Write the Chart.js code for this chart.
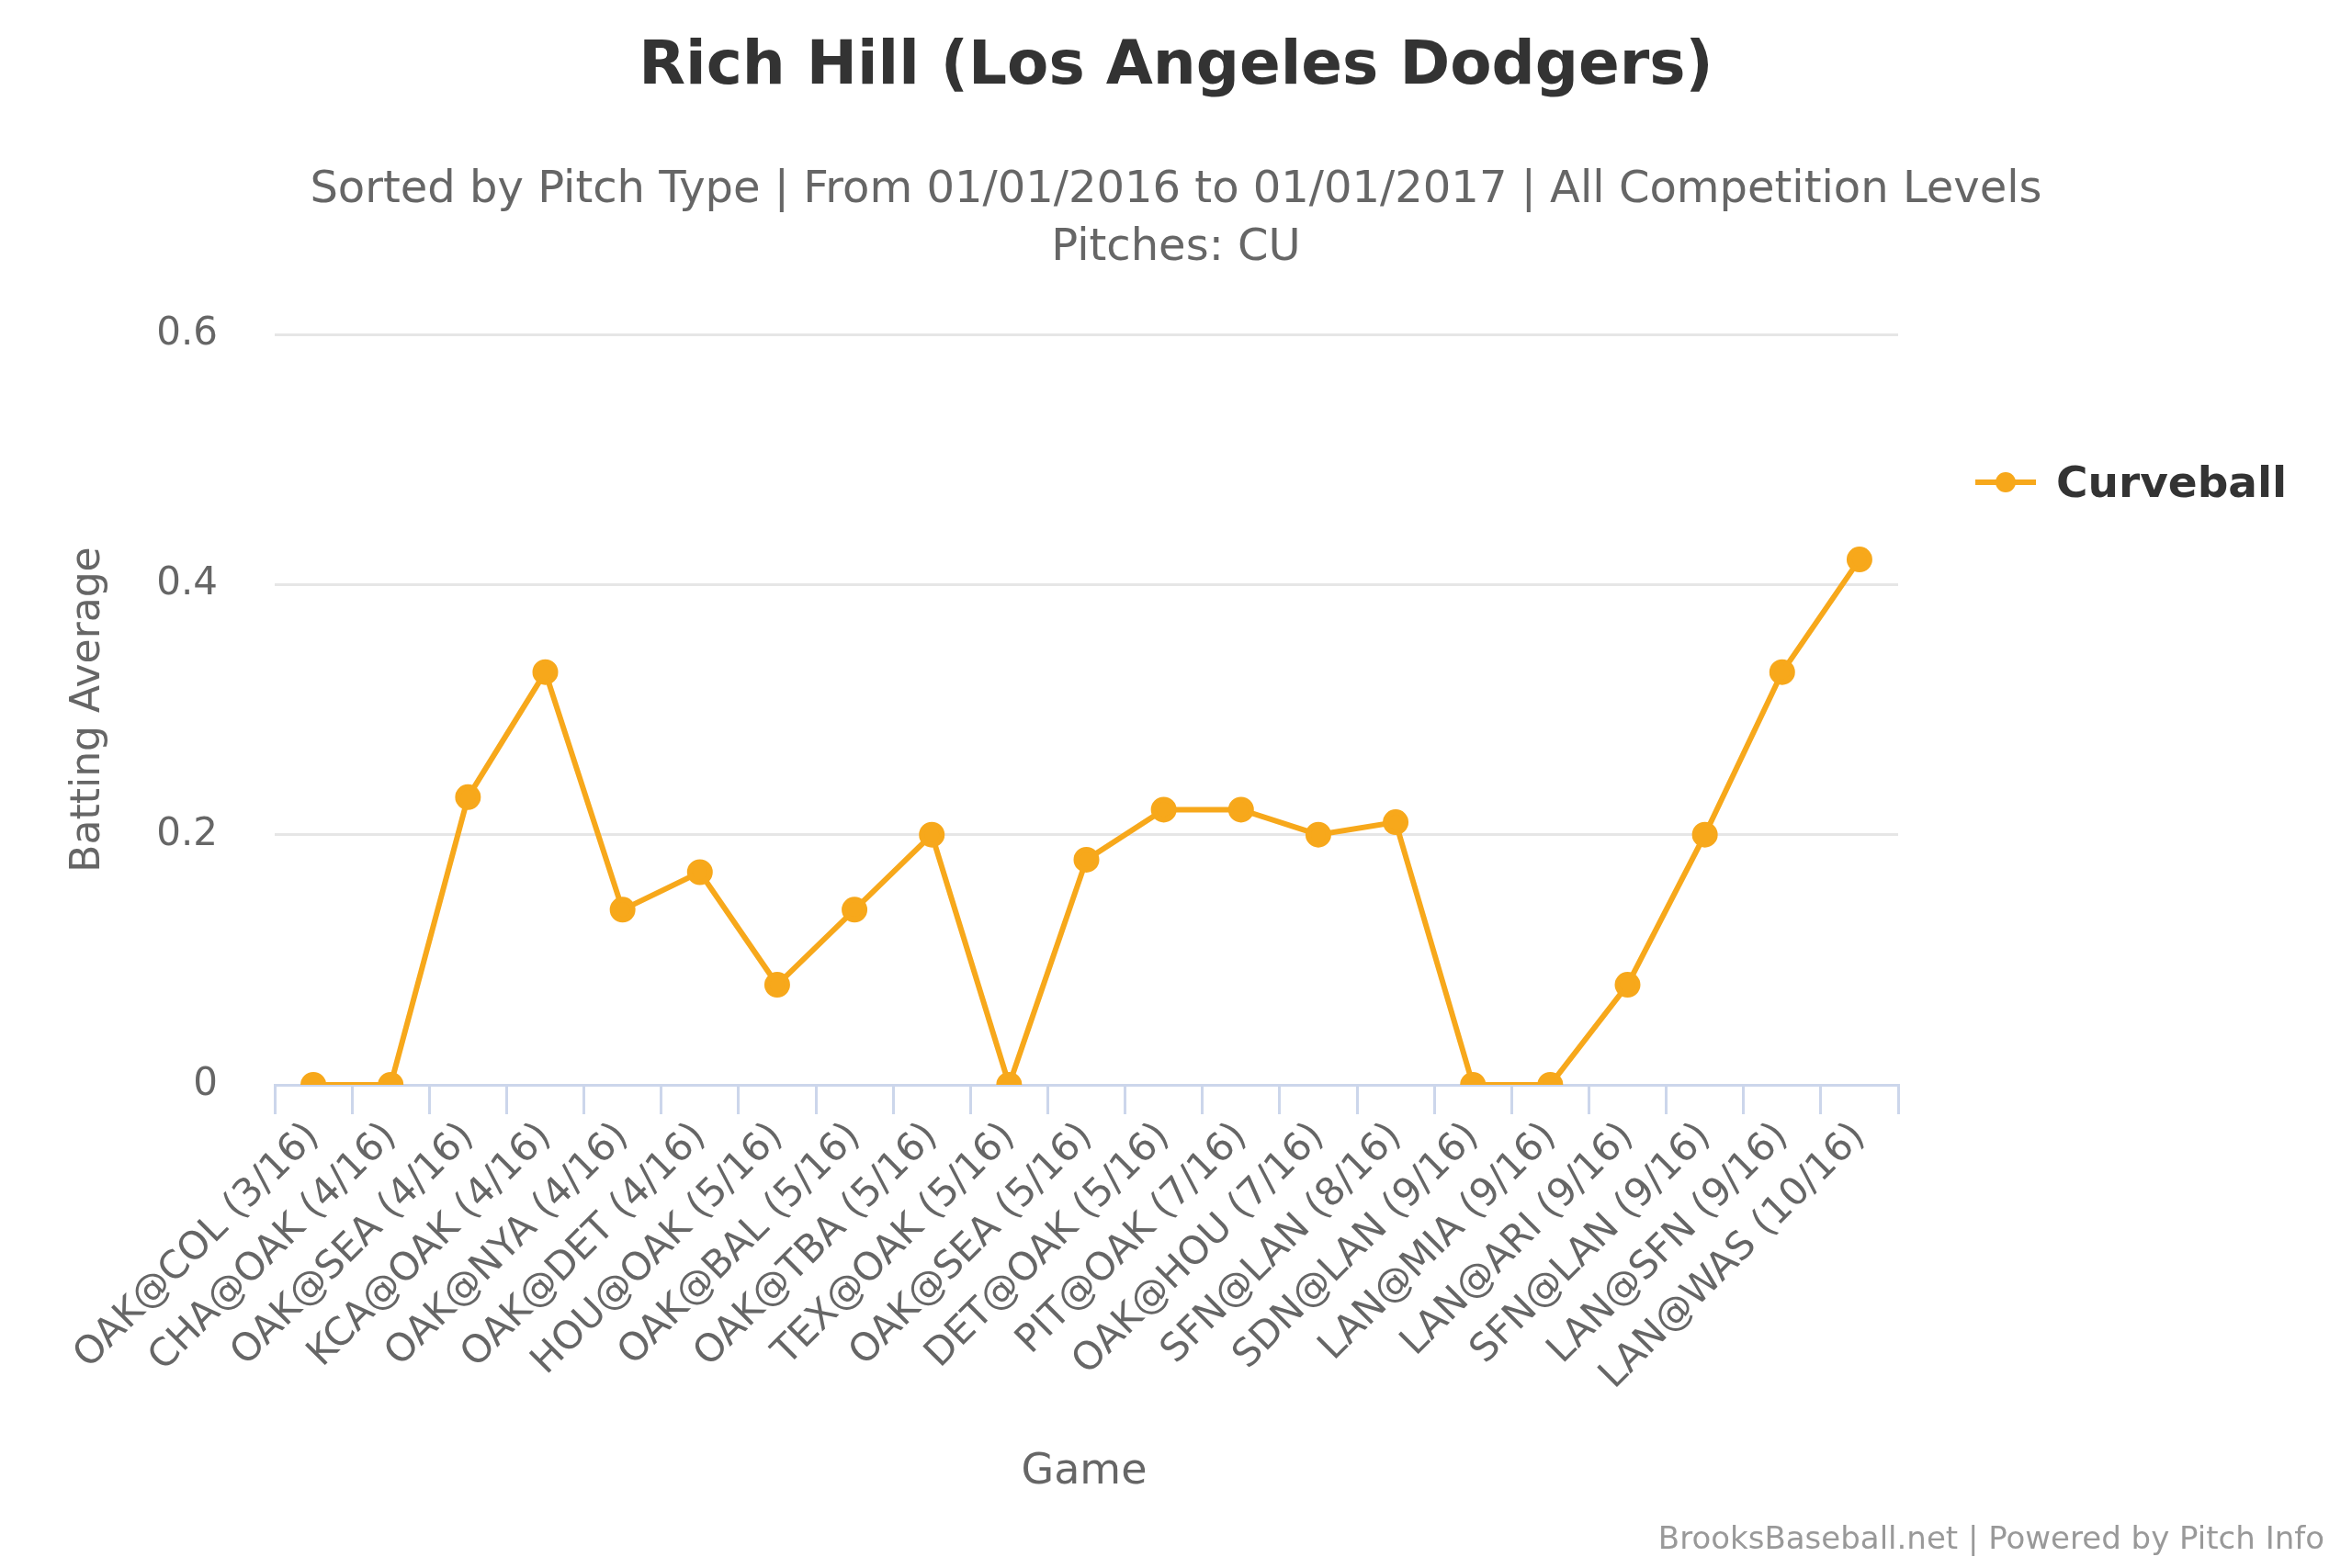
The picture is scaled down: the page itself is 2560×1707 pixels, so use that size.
<!DOCTYPE html>
<html>
<head>
<meta charset="utf-8">
<script src="https://cdn.jsdelivr.net/npm/chart.js@4"></script>
<style>
  html, body { margin: 0; padding: 0; background: #fff; }
  #wrap { position: relative; width: 2560px; height: 1707px; font-family: "DejaVu Sans", sans-serif; }
  canvas { position: absolute; left: 0; top: 0; }
  .txt { position: absolute; left: 0; width: 2560px; text-align: center; white-space: nowrap; }
  #title { top: 30px; font-size: 66px; font-weight: bold; color: #333; }
  #sub { top: 172px; font-size: 48px; color: #666; line-height: 63px; }
  #xtitle { top: 1572px; left: -100px; font-size: 46px; color: #666; }
  #legend { position: absolute; left: 2150px; top: 497px; font-size: 47px; color: #333; font-weight: bold; display: flex; align-items: center; }
  #legend .sym { position: relative; width: 66px; height: 40px; margin-right: 22px; }
  #legend .sym i { position: absolute; left: 0; top: 17px; width: 66px; height: 6px; background: #f7a81b; }
  #legend .sym b { position: absolute; left: 22px; top: 9px; width: 22px; height: 22px; border-radius: 50%; background: #f7a81b; }
  #credit { position: absolute; right: 30px; top: 1654px; font-size: 34px; color: #999; }
</style>
</head>
<body>
<div id="wrap">
  <canvas id="chart" width="2560" height="1707"></canvas>
  <div id="title" class="txt">Rich Hill (Los Angeles Dodgers)</div>
  <div id="sub" class="txt">Sorted by Pitch Type | From 01/01/2016 to 01/01/2017 | All Competition Levels<br>Pitches: CU</div>
  <div id="xtitle" class="txt">Game</div>
  <div id="legend"><span class="sym"><i></i><b></b></span>Curveball</div>
  <div id="credit">BrooksBaseball.net | Powered by Pitch Info</div>
</div>
<script>
// games and curveball batting average per game
const games = [
    "OAK@COL (3/16)", "CHA@OAK (4/16)", "OAK@SEA (4/16)", "KCA@OAK (4/16)",
    "OAK@NYA (4/16)", "OAK@DET (4/16)", "HOU@OAK (5/16)", "OAK@BAL (5/16)",
    "OAK@TBA (5/16)", "TEX@OAK (5/16)", "OAK@SEA (5/16)", "DET@OAK (5/16)",
    "PIT@OAK (7/16)", "OAK@HOU (7/16)", "SFN@LAN (8/16)", "SDN@LAN (9/16)",
    "LAN@MIA (9/16)", "LAN@ARI (9/16)", "SFN@LAN (9/16)", "LAN@SFN (9/16)",
    "LAN@WAS (10/16)"
];
const curveball = [0, 0, 0.23, 0.33, 0.14, 0.17, 0.08, 0.14, 0.20, 0, 0.18, 0.22,
    0.22, 0.20, 0.21, 0, 0, 0.08, 0.20, 0.33, 0.42];
const yTicks = [0, 0.2, 0.4, 0.6];

const orange = "#f7a81b";
Chart.defaults.font.family = "'DejaVu Sans', sans-serif";

new Chart(document.getElementById("chart"), {
    type: "line",
    data: {
        labels: games,
        datasets: [{
            label: "Curveball",
            data: curveball,
            borderColor: orange,
            backgroundColor: orange,
            borderWidth: 6,
            pointRadius: 11,
            pointHoverRadius: 11,
            tension: 0
        }]
    },
    options: {
        responsive: false,
        animation: false,
        layout: { padding: { top: 364, left: 70, right: 494, bottom: 0 } },
        plugins: { legend: { display: false }, tooltip: { enabled: false } },
        scales: {
            x: {
                offset: true,
                afterFit: (s) => { s.height = 1707 - 1181; },
                grid: { offset: true, drawOnChartArea: false, drawTicks: true, tickLength: 32, color: "#ccd6eb", lineWidth: 3 },
                border: { color: "#ccd6eb", width: 3 },
                ticks: {
                    color: "#666", font: { size: 42 },
                    minRotation: 45, maxRotation: 45, autoSkip: false, padding: 0
                }
            },
            y: {
                min: 0, max: 0.6,
                afterFit: (s) => { s.width = 229; },
                afterBuildTicks: (s) => { s.ticks = yTicks.map(v => ({ value: v })); },
                grid: { color: "#e6e6e6", lineWidth: 3, drawTicks: false },
                border: { display: false },
                ticks: {
                    color: "#666", font: { size: 42 }, padding: 62,
                    callback: (v) => v === 0 ? "0" : String(v)
                },
                title: { display: true, text: "Batting Average", color: "#666", font: { size: 44 }, padding: 0 }
            }
        }
    }
});
</script>
</body>
</html>
